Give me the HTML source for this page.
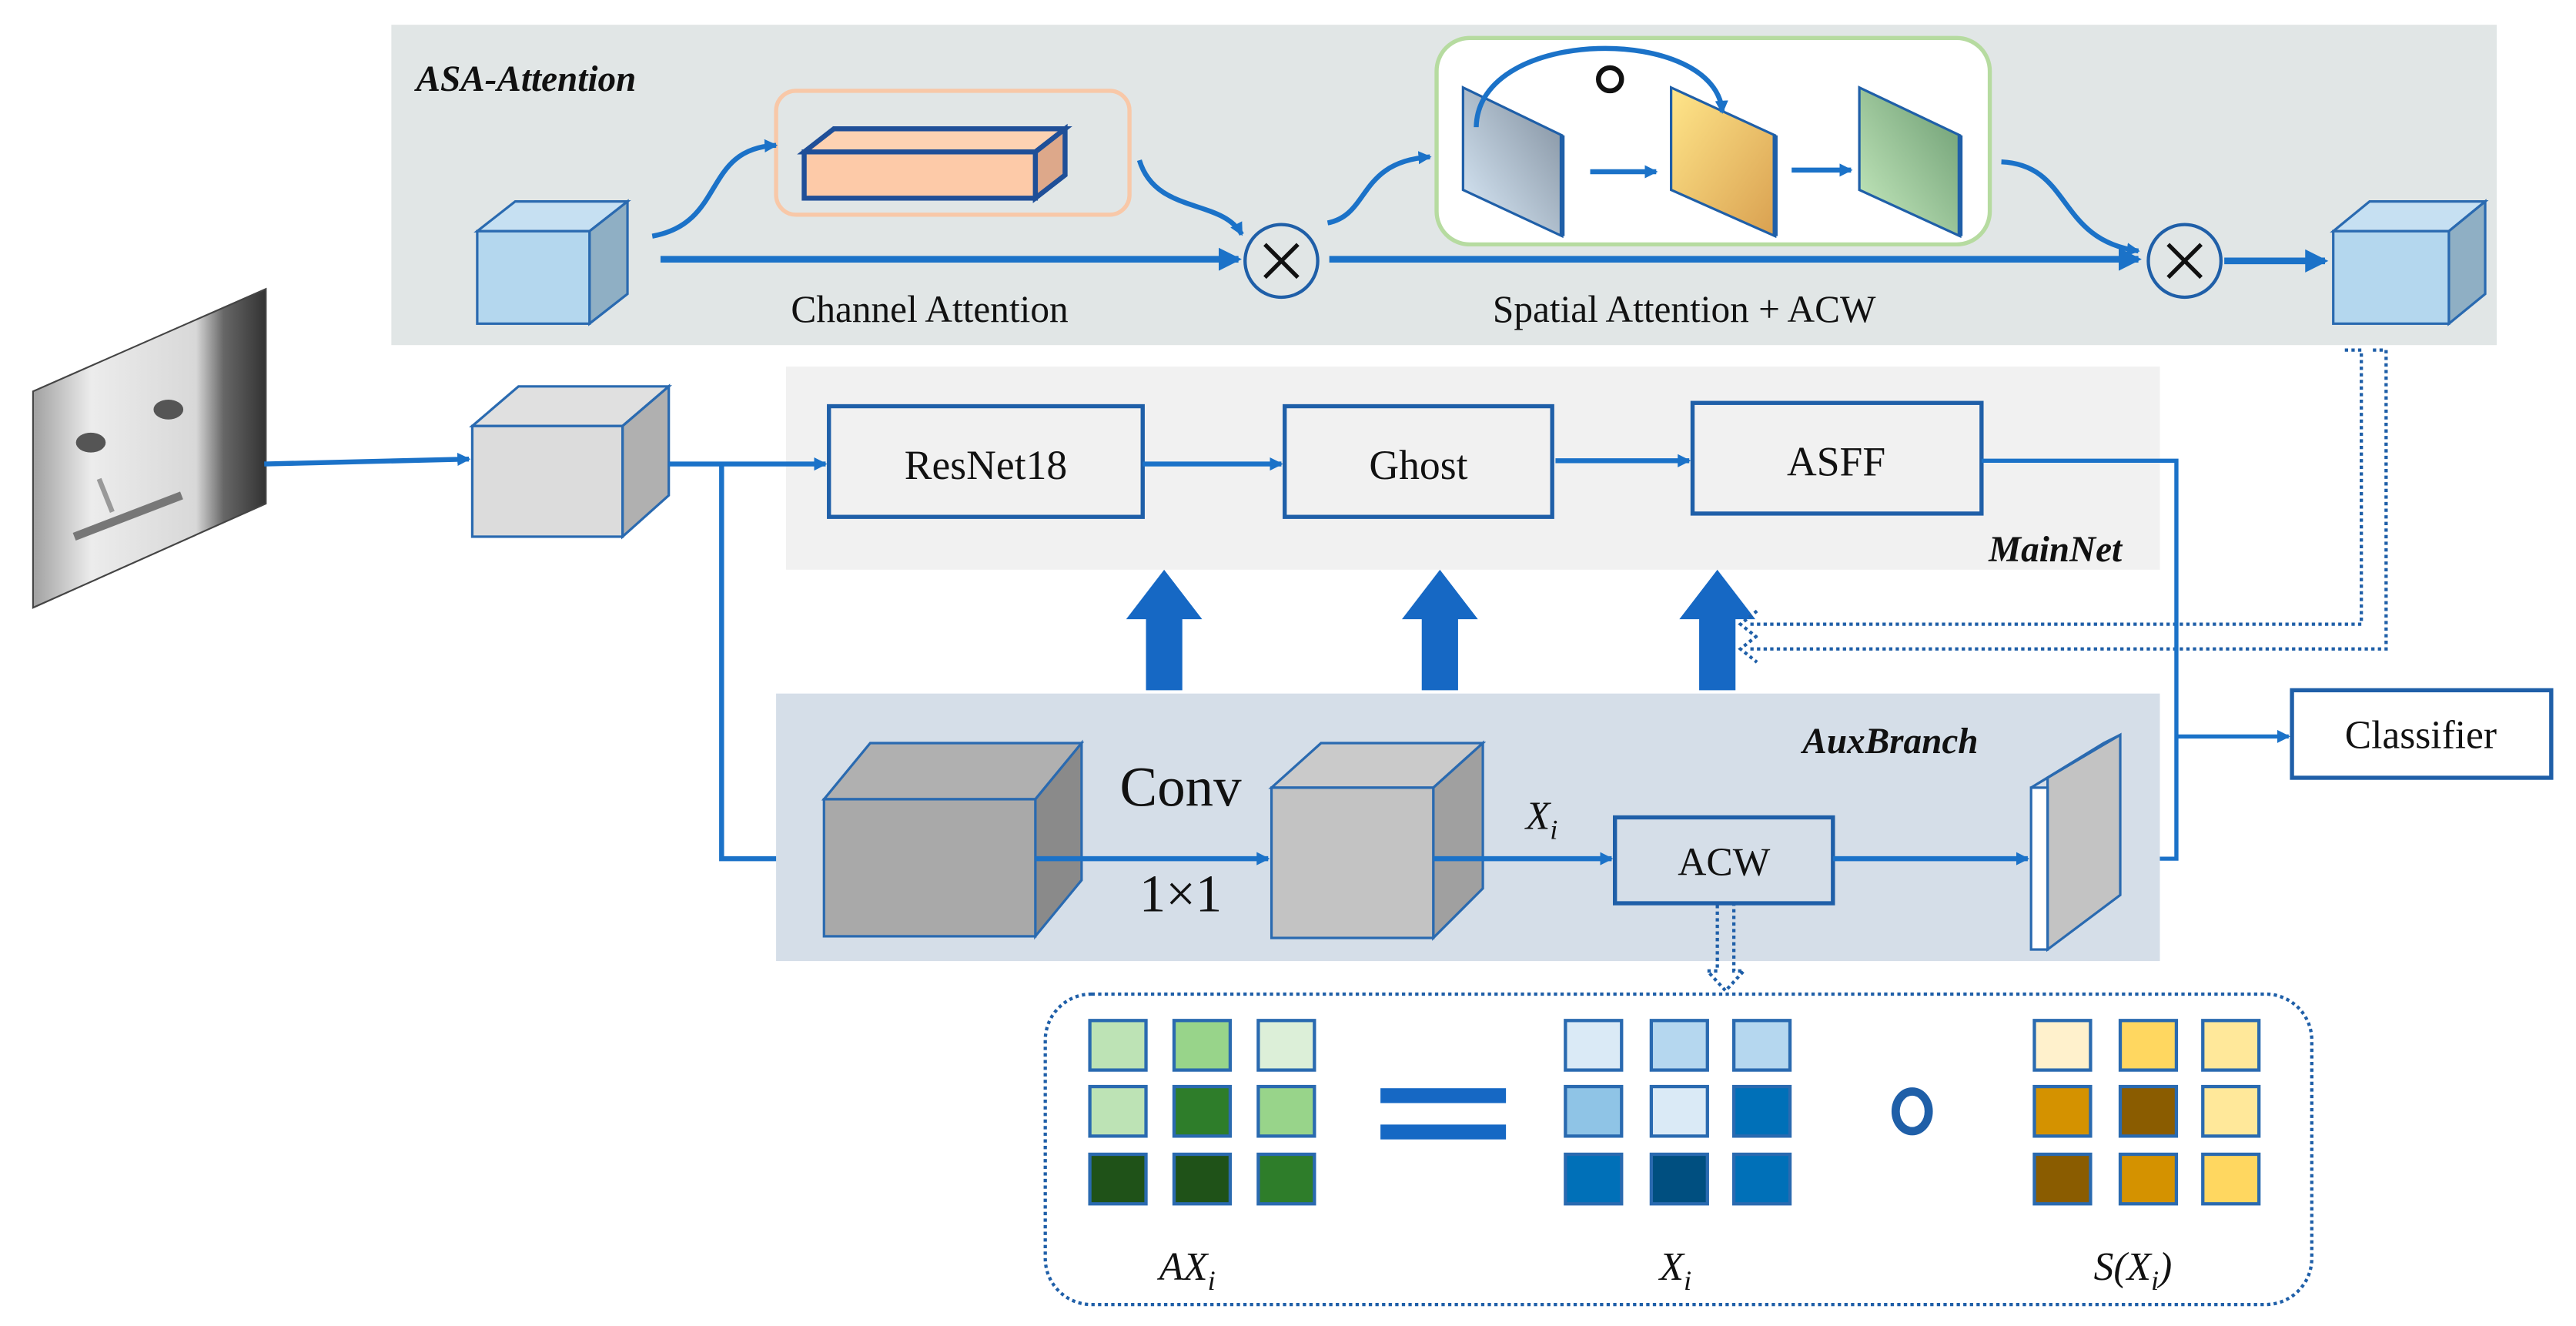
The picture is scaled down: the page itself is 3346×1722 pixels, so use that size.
<!DOCTYPE html>
<html><head><meta charset="utf-8"><style>
html,body{margin:0;padding:0;background:#fff;}
svg{display:block;}
svg text{font-family:"Liberation Serif","DejaVu Serif","Times New Roman",serif;fill:#111;}
</style></head><body>
<svg width="3346" height="1722" viewBox="0 0 1560 803" preserveAspectRatio="none" xmlns="http://www.w3.org/2000/svg" font-family="Liberation Serif, DejaVu Serif, serif">
<defs>
<marker id="ah" markerWidth="8" markerHeight="8" refX="7" refY="4" orient="auto" markerUnits="userSpaceOnUse"><path d="M0,0 L8,4 L0,8 z" fill="#1b72c8"/></marker>
<marker id="ahb" markerWidth="14" markerHeight="14" refX="12" refY="7" orient="auto" markerUnits="userSpaceOnUse"><path d="M0,0 L14,7 L0,14 z" fill="#1b72c8"/></marker>
<linearGradient id="gb" x1="0" y1="1" x2="1" y2="0"><stop offset="0" stop-color="#dcecfa"/><stop offset="1" stop-color="#7f8d9c"/></linearGradient>
<linearGradient id="gy" x1="0" y1="0" x2="1" y2="1"><stop offset="0" stop-color="#ffe68a"/><stop offset="1" stop-color="#d9a050"/></linearGradient>
<linearGradient id="gg" x1="0" y1="1" x2="1" y2="0"><stop offset="0" stop-color="#c8ecc0"/><stop offset="1" stop-color="#6a9a70"/></linearGradient>
<linearGradient id="face" x1="0" y1="0" x2="1" y2="0"><stop offset="0" stop-color="#a0a0a0"/><stop offset="0.25" stop-color="#ececec"/><stop offset="0.7" stop-color="#d8d8d8"/><stop offset="0.82" stop-color="#666"/><stop offset="1" stop-color="#333"/></linearGradient>
</defs>

<!-- ASA panel -->
<rect x="237" y="15" width="1275" height="194" fill="#e1e6e6"/>
<text x="252" y="55" font-size="22" font-weight="bold" font-style="italic">ASA-Attention</text>
<polygon points="289,140 312,122 380,122 357,140" fill="#c6e0f2" stroke="#2a6ab0" stroke-width="1.5"/>
<polygon points="357,140 380,122 380,178 357,196" fill="#8fafc4" stroke="#2a6ab0" stroke-width="1.5"/>
<rect x="289" y="140" width="68" height="56" fill="#b4d7ee" stroke="#2a6ab0" stroke-width="1.5"/>
<rect x="470" y="55" width="214" height="75" rx="12" fill="none" stroke="#f8c8a8" stroke-width="2.5"/>
<polygon points="487,92 505,78 645,78 627,92" fill="#fdd2b2" stroke="#1f4f98" stroke-width="3"/>
<polygon points="627,92 645,78 645,106 627,120" fill="#dda88a" stroke="#1f4f98" stroke-width="3"/>
<rect x="487" y="92" width="140" height="28" fill="#fdcaa8" stroke="#1f4f98" stroke-width="3"/>
<path d="M395,143 C440,135 425,90 470,88" fill="none" stroke="#1b72c8" stroke-width="3" marker-end="url(#ah)"/>
<path d="M690,97 C700,130 740,120 752,142" fill="none" stroke="#1b72c8" stroke-width="3" marker-end="url(#ah)"/>
<line x1="400" y1="157" x2="750" y2="157" stroke="#1b72c8" stroke-width="4" marker-end="url(#ahb)"/>
<circle cx="776" cy="158" r="22" fill="none" stroke="#1f5fa8" stroke-width="2"/>
<path d="M766,148 L786,168 M786,148 L766,168" stroke="#111" stroke-width="2.5"/>
<text x="563" y="195" font-size="23" text-anchor="middle">Channel Attention</text>
<rect x="870" y="23" width="335" height="125" rx="20" fill="#fff" stroke="#b6dba0" stroke-width="2.5"/>
<path d="M804,135 C830,130 822,98 866,95" fill="none" stroke="#1b72c8" stroke-width="3" marker-end="url(#ah)"/>
<polygon points="886,53 946,82 946,143 886,115" fill="url(#gb)" stroke="#1f5fa8" stroke-width="1.5"/>
<line x1="946" y1="82" x2="946" y2="143" stroke="#1f5fa8" stroke-width="3"/>
<polygon points="1012,53 1075,82 1075,143 1012,115" fill="url(#gy)" stroke="#1f5fa8" stroke-width="1.5"/>
<line x1="1075" y1="82" x2="1075" y2="143" stroke="#1f5fa8" stroke-width="3"/>
<polygon points="1126,53 1187,82 1187,143 1126,115" fill="url(#gg)" stroke="#1f5fa8" stroke-width="1.5"/>
<line x1="1187" y1="82" x2="1187" y2="143" stroke="#1f5fa8" stroke-width="3"/>
<path d="M894,77 C895,15 1040,15 1043,68" fill="none" stroke="#1b72c8" stroke-width="3" marker-end="url(#ah)"/>
<circle cx="975" cy="48" r="7" fill="none" stroke="#111" stroke-width="3"/>
<line x1="963" y1="104" x2="1003" y2="104" stroke="#1b72c8" stroke-width="3" marker-end="url(#ah)"/>
<line x1="1085" y1="103" x2="1121" y2="103" stroke="#1b72c8" stroke-width="3" marker-end="url(#ah)"/>
<path d="M1212,98 C1255,100 1245,145 1295,152" fill="none" stroke="#1b72c8" stroke-width="3" marker-end="url(#ah)"/>
<line x1="805" y1="157" x2="1295" y2="157" stroke="#1b72c8" stroke-width="4" marker-end="url(#ahb)"/>
<circle cx="1323" cy="158" r="22" fill="none" stroke="#1f5fa8" stroke-width="2"/>
<path d="M1313,148 L1333,168 M1333,148 L1313,168" stroke="#111" stroke-width="2.5"/>
<line x1="1347" y1="158" x2="1408" y2="158" stroke="#1b72c8" stroke-width="4" marker-end="url(#ahb)"/>
<text x="1020" y="195" font-size="23" text-anchor="middle">Spatial Attention + ACW</text>
<polygon points="1413,140 1435,122 1505,122 1483,140" fill="#c6e0f2" stroke="#2a6ab0" stroke-width="1.5"/>
<polygon points="1483,140 1505,122 1505,178 1483,196" fill="#8fafc4" stroke="#2a6ab0" stroke-width="1.5"/>
<rect x="1413" y="140" width="70" height="56" fill="#b4d7ee" stroke="#2a6ab0" stroke-width="1.5"/>

<!-- MainNet panel -->
<rect x="476" y="222" width="832" height="123" fill="#f1f1f1"/>
<text x="1285" y="340" font-size="22" font-weight="bold" font-style="italic" text-anchor="end">MainNet</text>
<rect x="502" y="246" width="190" height="67" fill="none" stroke="#1f5fa8" stroke-width="2.5"/>
<text x="597" y="290" font-size="25" text-anchor="middle">ResNet18</text>
<rect x="778" y="246" width="162" height="67" fill="none" stroke="#1f5fa8" stroke-width="2.5"/>
<text x="859" y="290" font-size="25" text-anchor="middle">Ghost</text>
<rect x="1025" y="244" width="175" height="67" fill="none" stroke="#1f5fa8" stroke-width="2.5"/>
<text x="1112" y="288" font-size="25" text-anchor="middle">ASFF</text>
<line x1="692" y1="281" x2="776" y2="281" stroke="#1b72c8" stroke-width="3" marker-end="url(#ah)"/>
<line x1="942" y1="279" x2="1023" y2="279" stroke="#1b72c8" stroke-width="3" marker-end="url(#ah)"/>

<!-- face -->
<polygon points="20,237 161,175 161,305 20,368" fill="url(#face)" stroke="#444" stroke-width="1"/>
<ellipse cx="55" cy="268" rx="9" ry="6" fill="#555"/>
<ellipse cx="102" cy="248" rx="9" ry="6" fill="#555"/>
<path d="M45,325 L110,300" stroke="#777" stroke-width="5"/>
<path d="M60,290 L68,310" stroke="#999" stroke-width="3"/>
<line x1="160" y1="281" x2="284" y2="278" stroke="#1b72c8" stroke-width="3" marker-end="url(#ah)"/>
<polygon points="286,258 314,234 405,234 377,258" fill="#e0e0e0" stroke="#2a6ab0" stroke-width="1.5"/>
<polygon points="377,258 405,234 405,300 377,325" fill="#b0b0b0" stroke="#2a6ab0" stroke-width="1.5"/>
<rect x="286" y="258" width="91" height="67" fill="#dcdcdc" stroke="#2a6ab0" stroke-width="1.5"/>
<line x1="405" y1="281" x2="500" y2="281" stroke="#1b72c8" stroke-width="3" marker-end="url(#ah)"/>
<polyline points="437,281 437,520 497,520" fill="none" stroke="#1b72c8" stroke-width="3" marker-end="url(#ah)"/>

<g fill="#1668c4">
<polygon points="694,418 716,418 716,375 728,375 705,345 682,375 694,375"/>
<polygon points="861,418 883,418 883,375 895,375 872,345 849,375 861,375"/>
<polygon points="1029,418 1051,418 1051,375 1063,375 1040,345 1017,375 1029,375"/>
</g>
<g fill="none" stroke="#1f5fa8" stroke-width="2" stroke-dasharray="2,2">
<polyline points="1420,212 1430,212 1430,378 1058,378"/>
<polyline points="1437,212 1445,212 1445,393 1058,393"/>
<polyline points="1064,370 1054,378 1064,386"/>
<polyline points="1064,385 1054,393 1064,401"/>
</g>

<polyline points="1200,279 1318,279 1318,520 1286,520" fill="none" stroke="#1b72c8" stroke-width="2.5"/>
<line x1="1318" y1="446" x2="1386" y2="446" stroke="#1b72c8" stroke-width="2.5" marker-end="url(#ah)"/>
<rect x="1388" y="418" width="157" height="53" fill="#fff" stroke="#1f5fa8" stroke-width="2.5"/>
<text x="1466" y="453" font-size="24" text-anchor="middle">Classifier</text>

<rect x="470" y="420" width="838" height="162" fill="#d5dee8"/>
<text x="1198" y="456" font-size="22" font-weight="bold" font-style="italic" text-anchor="end">AuxBranch</text>
<polygon points="499,484 527,450 655,450 627,484" fill="#b0b0b0" stroke="#2a6ab0" stroke-width="1.5"/>
<polygon points="627,484 655,450 655,533 627,567" fill="#8a8a8a" stroke="#2a6ab0" stroke-width="1.5"/>
<rect x="499" y="484" width="128" height="83" fill="#a9a9a9" stroke="#2a6ab0" stroke-width="1.5"/>
<text x="715" y="488" font-size="34" text-anchor="middle">Conv</text>
<text x="715" y="552" font-size="32" text-anchor="middle">1×1</text>
<line x1="627" y1="520" x2="768" y2="520" stroke="#1b72c8" stroke-width="3" marker-end="url(#ah)"/>
<polygon points="770,477 800,450 898,450 868,477" fill="#cacaca" stroke="#2a6ab0" stroke-width="1.5"/>
<polygon points="868,477 898,450 898,538 868,568" fill="#a0a0a0" stroke="#2a6ab0" stroke-width="1.5"/>
<rect x="770" y="477" width="98" height="91" fill="#c3c3c3" stroke="#2a6ab0" stroke-width="1.5"/>
<text x="924" y="502" font-size="24" font-style="italic">X<tspan font-size="17" dy="6">i</tspan></text>
<line x1="868" y1="520" x2="976" y2="520" stroke="#1b72c8" stroke-width="3" marker-end="url(#ah)"/>
<rect x="978" y="495" width="132" height="52" fill="none" stroke="#1f5fa8" stroke-width="2.5"/>
<text x="1044" y="530" font-size="24" text-anchor="middle">ACW</text>
<line x1="1110" y1="520" x2="1228" y2="520" stroke="#1b72c8" stroke-width="3" marker-end="url(#ah)"/>
<polygon points="1240,471 1284,445 1284,542 1240,575" fill="#c3c3c3" stroke="#2a6ab0" stroke-width="1.5"/>
<polygon points="1230,477 1240,471 1284,445 1274,450" fill="#fff" stroke="#2a6ab0" stroke-width="1.5"/>
<rect x="1230" y="477" width="10" height="98" fill="#fff" stroke="#2a6ab0" stroke-width="1.5"/>

<g fill="none" stroke="#1f5fa8" stroke-width="2" stroke-dasharray="2,2">
<polyline points="1040,548 1040,588 1034,588 1045,600 1056,588 1050,588 1050,548"/>
<rect x="633" y="602" width="767" height="188" rx="28"/>
</g>

<g stroke="#2a6ab0" stroke-width="2">
<rect x="660" y="618" width="34" height="30" fill="#bde3b5"/><rect x="711" y="618" width="34" height="30" fill="#98d48a"/><rect x="762" y="618" width="34" height="30" fill="#dcefd8"/>
<rect x="660" y="658" width="34" height="30" fill="#bde3b5"/><rect x="711" y="658" width="34" height="30" fill="#2e7d2a"/><rect x="762" y="658" width="34" height="30" fill="#98d48a"/>
<rect x="660" y="699" width="34" height="30" fill="#1f5218"/><rect x="711" y="699" width="34" height="30" fill="#1f5218"/><rect x="762" y="699" width="34" height="30" fill="#2e7d2a"/>
<rect x="948" y="618" width="34" height="30" fill="#daeaf6"/><rect x="1000" y="618" width="34" height="30" fill="#b5d7ef"/><rect x="1050" y="618" width="34" height="30" fill="#b5d7ef"/>
<rect x="948" y="658" width="34" height="30" fill="#8fc4e6"/><rect x="1000" y="658" width="34" height="30" fill="#daeaf6"/><rect x="1050" y="658" width="34" height="30" fill="#0070b8"/>
<rect x="948" y="699" width="34" height="30" fill="#0070b8"/><rect x="1000" y="699" width="34" height="30" fill="#004f80"/><rect x="1050" y="699" width="34" height="30" fill="#0070b8"/>
<rect x="1232" y="618" width="34" height="30" fill="#fff1cc"/><rect x="1284" y="618" width="34" height="30" fill="#ffd760"/><rect x="1334" y="618" width="34" height="30" fill="#ffe89a"/>
<rect x="1232" y="658" width="34" height="30" fill="#d49200"/><rect x="1284" y="658" width="34" height="30" fill="#8a5c00"/><rect x="1334" y="658" width="34" height="30" fill="#ffe89a"/>
<rect x="1232" y="699" width="34" height="30" fill="#8a5c00"/><rect x="1284" y="699" width="34" height="30" fill="#d49200"/><rect x="1334" y="699" width="34" height="30" fill="#ffd760"/>
</g>
<rect x="836" y="659" width="76" height="9" fill="#1668c4"/>
<rect x="836" y="681" width="76" height="9" fill="#1668c4"/>
<ellipse cx="1158" cy="673" rx="10" ry="12" fill="none" stroke="#1f5fa8" stroke-width="5"/>
<text x="702" y="775" font-size="24" font-style="italic">AX<tspan font-size="17" dy="6">i</tspan></text>
<text x="1005" y="775" font-size="24" font-style="italic">X<tspan font-size="17" dy="6">i</tspan></text>
<text x="1268" y="775" font-size="24" font-style="italic">S(X<tspan font-size="17" dy="6">i</tspan><tspan dy="-6">)</tspan></text>
</svg>
</body></html>
